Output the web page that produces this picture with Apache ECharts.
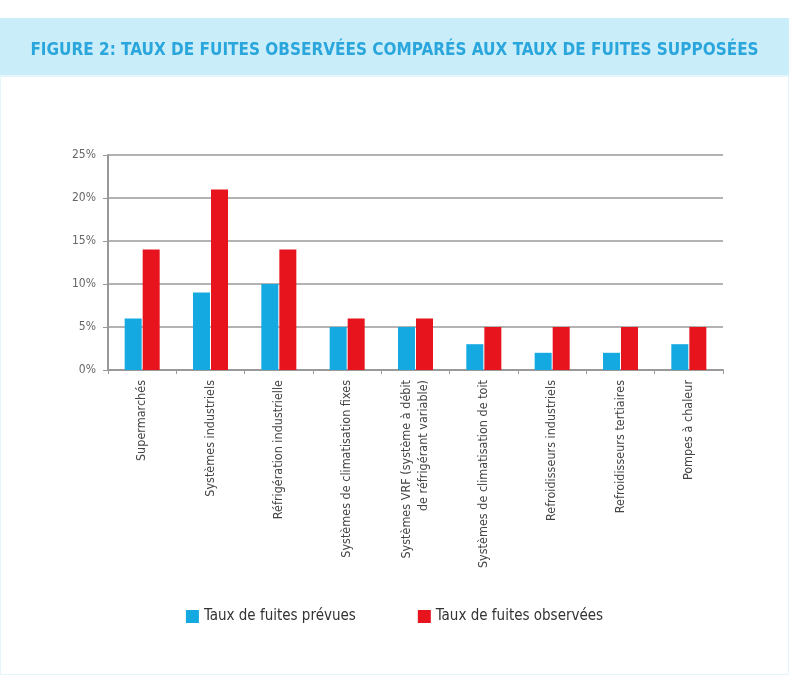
<!DOCTYPE html>
<html>
<head>
<meta charset="utf-8">
<script src="https://cdn.jsdelivr.net/npm/echarts@6/dist/echarts.min.js"></script>
<style>
html,body{margin:0;padding:0;background:#ffffff;}
#chart{width:789px;height:675px;}
</style>
</head>
<body>
<div id="chart"></div>
<script>
const titleText = "FIGURE 2: TAUX DE FUITES OBSERVÉES COMPARÉS AUX TAUX DE FUITES SUPPOSÉES";
const categories = [
  "Supermarchés",
  "Systèmes industriels",
  "Réfrigération industrielle",
  "Systèmes de climatisation fixes",
  "Systèmes VRF (système à débit\nde réfrigérant variable)",
  "Systèmes de climatisation de toit",
  "Refroidisseurs industriels",
  "Refroidisseurs tertiaires",
  "Pompes à chaleur"
];
const seriesNames = ["Taux de fuites prévues", "Taux de fuites observées"];
const prevues = [6, 9, 10, 5, 5, 3, 2, 2, 3];
const observees = [14, 21, 14, 6, 6, 5, 5, 5, 5];
const yTicks = [0, 5, 10, 15, 20, 25];

const font = "'DejaVu Sans Condensed', 'Liberation Sans Narrow', 'Roboto', sans-serif";
const chart = echarts.init(document.getElementById('chart'));
chart.setOption({
  animation: false,
  backgroundColor: '#ffffff',
  graphic: [
    { type: 'rect', shape: { x: 0, y: 18, width: 789, height: 58 }, style: { fill: '#c9eef9' }, z: -1 },
    { type: 'rect', shape: { x: 0, y: 76, width: 789, height: 599 }, style: { fill: '#ffffff', stroke: '#e4f6fb', lineWidth: 2 }, z: -1 }
  ],
  title: {
    text: titleText,
    left: 'center',
    top: 37,
    textStyle: { color: '#2aa6dc', fontFamily: font, fontWeight: 'bold', fontSize: 17 }
  },
  legend: {
    data: seriesNames,
    top: 604,
    left: 'center',
    itemWidth: 13,
    itemHeight: 13,
    itemGap: 62,
    icon: 'rect',
    textStyle: { color: '#333', fontFamily: font, fontSize: 15 }
  },
  grid: { left: 108, right: 66, top: 155, bottom: 305, containLabel: false },
  xAxis: {
    type: 'category',
    data: categories,
    axisLine: { lineStyle: { color: '#999', width: 2 } },
    axisTick: { show: true, interval: 0, length: 4, lineStyle: { color: '#999' } },
    axisLabel: { rotate: 90, interval: 0, margin: 10, color: '#444', fontFamily: font, fontSize: 12.5, lineHeight: 17 }
  },
  yAxis: {
    type: 'value',
    min: 0, max: 25, interval: 5,
    axisLine: { show: true, lineStyle: { color: '#999', width: 2 } },
    axisTick: { show: true, length: 5, lineStyle: { color: '#999' } },
    axisLabel: { formatter: v => yTicks.includes(v) ? v + '%' : '', color: '#666', fontFamily: font, fontSize: 12, margin: 12 },
    splitLine: { lineStyle: { color: '#b3b3b3', width: 2 } }
  },
  series: [
    { name: seriesNames[0], type: 'bar', data: prevues, barWidth: 17, barGap: '6%', itemStyle: { color: '#14a9e1' } },
    { name: seriesNames[1], type: 'bar', data: observees, barWidth: 17, barGap: '6%', itemStyle: { color: '#e8141d' } }
  ]
});
</script>
</body>
</html>
